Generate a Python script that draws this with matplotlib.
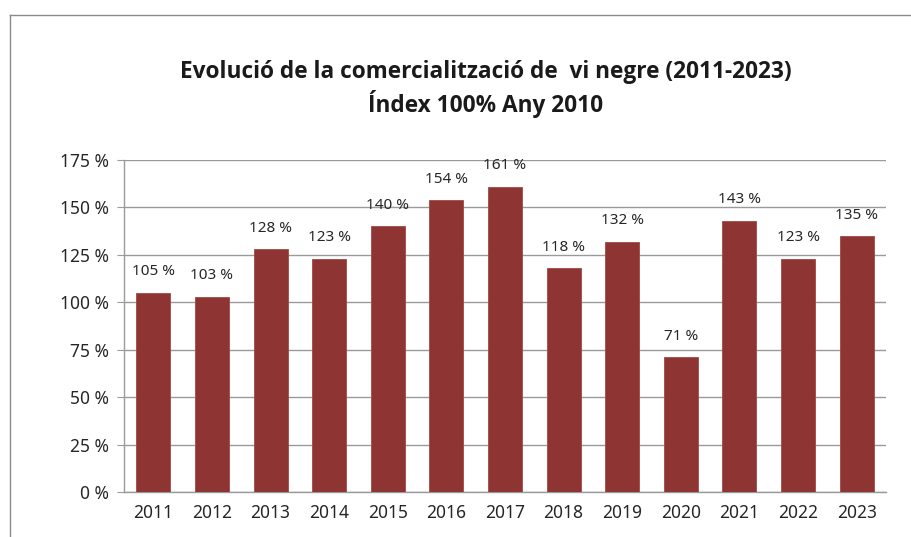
import matplotlib
matplotlib.use("Agg")
import matplotlib.pyplot as plt
from matplotlib.lines import Line2D

# ------------ data ------------ #
years = ["2011", "2012", "2013", "2014", "2015", "2016", "2017",
         "2018", "2019", "2020", "2021", "2022", "2023"]
index_pct = [105, 103, 128, 123, 140, 154, 161, 118, 132, 71, 143, 123, 135]
y_ticks = [0, 25, 50, 75, 100, 125, 150, 175]

title = "Evolució de la comercialització de  vi negre (2011-2023)\nÍndex 100% Any 2010"

bar_color = "#8E3533"
grid_color = "#9A9A9A"
text_color = "#262626"

plt.rcParams["font.family"] = ["Noto Sans", "DejaVu Sans"]

W, H = 912, 537
fig = plt.figure(figsize=(W / 100, H / 100), dpi=100)
ax = fig.add_axes([124 / W, 1 - 492 / H, (886 - 124) / W, (492 - 160) / H])

x = range(len(years))
ax.bar(x, index_pct, width=0.58, color=bar_color, edgecolor="#A04844",
       linewidth=0.6, zorder=3)
for i, v in enumerate(index_pct):
    ax.annotate(f"{v} %", (i, v), xytext=(0, 15), textcoords="offset points",
                ha="center", va="center", fontsize=11, color=text_color,
                zorder=4)

ax.set_xlim(-0.5, len(years) - 0.5)
ax.set_ylim(0, 175)
ax.set_yticks(y_ticks)
ax.set_yticklabels([f"{t} %" for t in y_ticks])
ax.set_xticks(list(x))
ax.set_xticklabels(years)
ax.yaxis.grid(True, color=grid_color, linewidth=1, zorder=0)
ax.set_axisbelow(True)

for s in ["top", "right"]:
    ax.spines[s].set_visible(False)
for s in ["left", "bottom"]:
    ax.spines[s].set_color(grid_color)
    ax.spines[s].set_linewidth(1)
ax.tick_params(axis="y", length=5, color=grid_color, labelsize=12.5,
               labelcolor=text_color, pad=6)
ax.tick_params(axis="x", length=0, labelsize=12.5, labelcolor=text_color, pad=9)

# Noto Sans has no bold face installed here, Open Sans Bold is the closest
fig.text(486 / W, 1 - 89 / H, title, ha="center", va="center",
         family=["Open Sans", "DejaVu Sans"], fontsize=16.3,
         fontweight="bold", color="#1a1a1a", linespacing=1.25)

# outer chart frame (only top and left edges show in the crop)
fig.add_artist(Line2D([10 / W, 1], [1 - 15 / H, 1 - 15 / H], color="#8a8a8a",
                      linewidth=1, transform=fig.transFigure))
fig.add_artist(Line2D([10 / W, 10 / W], [0, 1 - 15 / H], color="#8a8a8a",
                      linewidth=1, transform=fig.transFigure))

fig.savefig("out.png", dpi=100)
